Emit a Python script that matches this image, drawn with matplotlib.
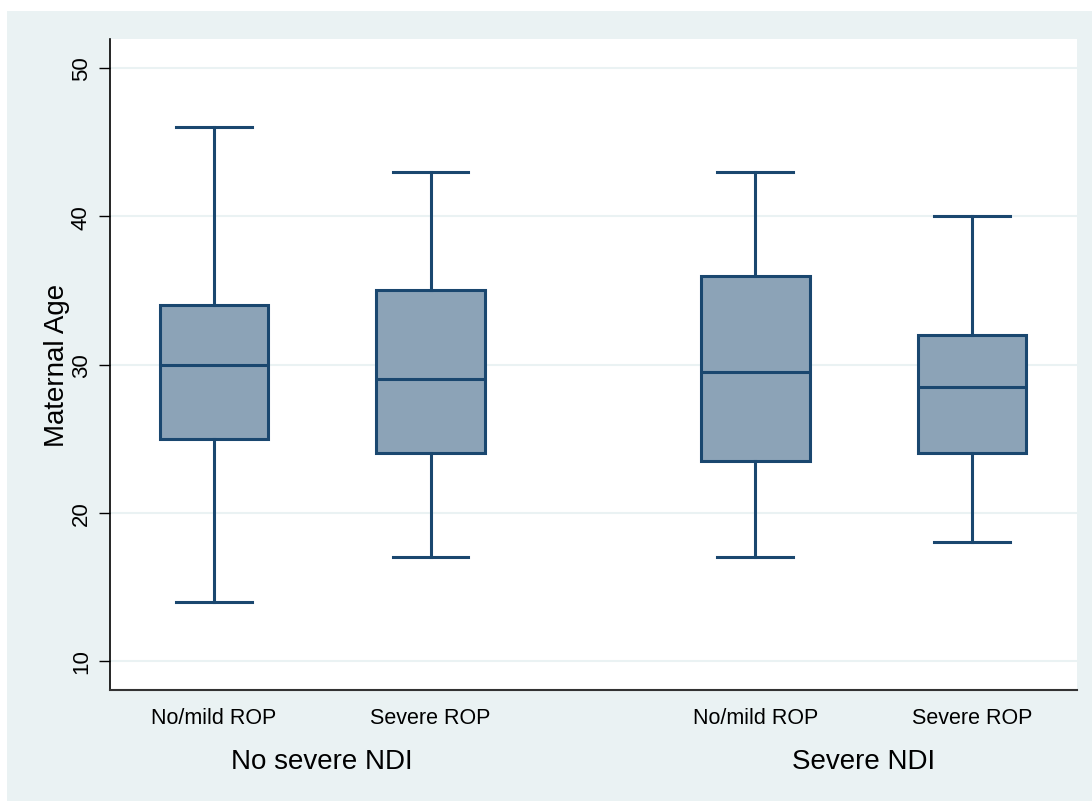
import matplotlib.pyplot as plt
import matplotlib.patches as mpatches

plt.rcParams['font.family'] = ['Liberation Sans', 'DejaVu Sans']

# data
labels = ['No/mild ROP', 'Severe ROP', 'No/mild ROP', 'Severe ROP']
groups = ['No severe NDI', 'Severe NDI']
whislo = [14, 17, 17, 18]
q1 = [25, 24, 23.5, 24]
med = [30, 29, 29.5, 28.5]
q3 = [34, 35, 36, 32]
whishi = [46, 43, 43, 40]

positions = [1, 2, 3.5, 4.5]
navy = '#1a476f'
bg = '#eaf2f3'

stats = []
for i in range(len(labels)):
    stats.append({'whislo': whislo[i], 'q1': q1[i], 'med': med[i],
                  'q3': q3[i], 'whishi': whishi[i], 'fliers': []})

fig = plt.figure(figsize=(10.92, 8.03), dpi=100)
fig.patch.set_facecolor('white')
fig.patches.append(mpatches.Rectangle((7 / 1092, 1 / 803), 1, 1 - 13 / 803,
                                      transform=fig.transFigure,
                                      facecolor=bg, edgecolor='none', zorder=-10))

ax = fig.add_axes([110 / 1092, 1 - 691 / 803, 967 / 1092, 651 / 803])
ax.set_facecolor('white')

lw = 2.2
ax.bxp(stats, positions=positions, widths=0.5, capwidths=0.35,
       patch_artist=True, showfliers=False,
       boxprops=dict(facecolor='#8ca3b7', edgecolor=navy, linewidth=lw),
       medianprops=dict(color=navy, linewidth=lw),
       whiskerprops=dict(color=navy, linewidth=lw),
       capprops=dict(color=navy, linewidth=lw))

ax.set_xlim(0.52, 4.985)
ax.set_ylim(8.04, 51.96)
ax.set_yticks([10, 20, 30, 40, 50])
ax.yaxis.grid(True, color=bg, linewidth=1.5)
ax.set_axisbelow(True)
ax.tick_params(axis='y', labelsize=16, length=8, width=1, direction='out',
               labelrotation=90, pad=5)
for t in ax.get_yticklabels():
    t.set_va('center')
ax.set_xticks(positions)
ax.set_xticklabels(labels)
ax.tick_params(axis='x', length=0, labelsize=15.5, pad=12)

for s in ['top', 'right']:
    ax.spines[s].set_visible(False)
ax.spines['left'].set_color('black')
ax.spines['bottom'].set_color('#333333')
ax.spines['left'].set_linewidth(1.2)
ax.spines['bottom'].set_linewidth(1.5)

ax.set_ylabel('Maternal Age', fontsize=20, labelpad=1)

# group labels below the tick labels
for g, xc in zip(groups, [1.5, 4.0]):
    ax.annotate(g, xy=(xc, 0), xycoords=('data', 'axes fraction'),
                xytext=(0, -51), textcoords='offset points',
                fontsize=20, ha='center', va='center')

fig.savefig('out.png', dpi=100, facecolor=fig.get_facecolor())
